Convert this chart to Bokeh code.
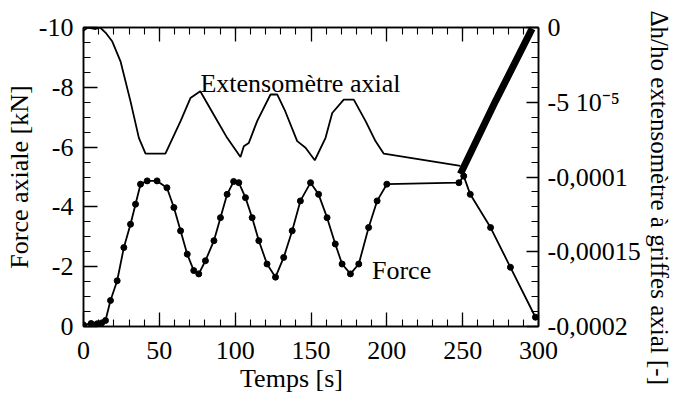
import numpy as np
from bokeh.plotting import figure
from bokeh.models import Range1d, LinearAxis, FixedTicker, SingleIntervalTicker, Label, Title
from bokeh.embed import file_html
from bokeh.resources import INLINE

FONT = "Liberation Serif"

# ---- data ----
# Force axiale [kN] vs temps [s] (left axis, inverted)
time_force = [0, 5, 9, 12, 14.5, 17.8, 22.2, 26.6, 31, 34.3, 37.6, 42, 48.5, 55, 59.6, 64,
              68.4, 72.7, 76, 80.4, 86, 90.3, 94.7, 99, 102.4, 106.8, 111.2, 115.6, 121,
              126.6, 132, 137.6, 143, 149.7, 155, 160.6, 166, 170.5, 176, 181.5, 188,
              193.6, 200, 247.5, 250.7, 255, 268.4, 281.5, 298]
force_kn = [-0.05, -0.1, -0.09, -0.12, -0.2, -0.87, -1.53, -2.64, -3.42, -4.09, -4.76, -4.87,
            -4.87, -4.64, -3.98, -3.2, -2.42, -1.87, -1.76, -2.2, -2.87, -3.64, -4.42, -4.85,
            -4.81, -4.31, -3.64, -2.87, -2.09, -1.65, -2.31, -3.2, -4.2, -4.81, -4.42, -3.64,
            -2.76, -2.09, -1.76, -2.09, -3.31, -4.2, -4.76, -4.81, -5.03, -4.42, -3.31,
            -1.98, -0.31]

# Extensometre axial: dh/ho [-] (right axis)
time_ext = [0, 3, 8, 11, 15, 19, 24.4, 31, 36.5, 40.9, 54, 64, 70.5, 77, 85.7, 94.7, 103.5,
            105.7, 109, 114.5, 123.3, 127.7, 133, 140.9, 146.4, 152.5, 159.6, 164, 171.6,
            178.2, 186, 192.5, 198, 248.5]
ext_strain = [-0.2e-5, 0.0, -0.1e-5, 0.0, -0.4e-5, -0.94e-5, -2.26e-5, -4.94e-5, -7.38e-5,
              -8.44e-5, -8.44e-5, -6.26e-5, -4.72e-5, -4.26e-5, -5.8e-5, -7.38e-5, -8.66e-5,
              -7.94e-5, -7.72e-5, -6.26e-5, -4.48e-5, -4.48e-5, -5.6e-5, -7.6e-5, -8.04e-5,
              -8.88e-5, -7.38e-5, -5.72e-5, -4.82e-5, -4.82e-5, -6.26e-5, -7.6e-5, -8.44e-5,
              -9.26e-5]
# dense return segment (drawn thick)
time_ext_return = [248.5, 271.6, 295.8]
ext_return = [-9.8e-5, -4.94e-5, -0.08e-5]

x_major = 50
left_ticks = [0, -2, -4, -6, -8, -10]
left_tick_labels = ["0", "-2", "-4", "-6", "-8", "-10"]
right_ticks = [0.0, -5e-05, -0.0001, -0.00015, -0.0002]
right_tick_labels = ["0", "-5 10\u207b\u2075", "-0,0001", "-0,00015", "-0,0002"]

NB = "\u00a0"

# ---- figure ----
p = figure(width=680, height=402,
           x_range=Range1d(0, 300), y_range=Range1d(0, -10),
           output_backend="svg", toolbar_location=None,
           min_border_left=83, min_border_right=142, min_border_top=27, min_border_bottom=76)
p.extra_y_ranges = {"ext": Range1d(-0.0002, 0)}
p.grid.visible = False
p.outline_line_color = "black"
p.outline_line_width = 1.5
p.background_fill_color = "white"
p.border_fill_color = "white"

def style_axis(ax, label_size="26px"):
    ax.axis_line_color = "black"
    ax.axis_line_width = 1.5
    ax.major_tick_line_color = "black"
    ax.minor_tick_line_color = "black"
    ax.major_tick_line_width = 1.3
    ax.minor_tick_line_width = 1.1
    ax.major_tick_in = 14
    ax.major_tick_out = 0
    ax.minor_tick_in = 7
    ax.minor_tick_out = 0
    ax.major_label_text_font = FONT
    ax.major_label_text_font_size = label_size
    ax.major_label_text_color = "black"

def style_title(ax, size="26px"):
    ax.axis_label_text_font = FONT
    ax.axis_label_text_font_size = size
    ax.axis_label_text_font_style = "normal"
    ax.axis_label_text_color = "black"

# bottom x axis
xa = p.xaxis[0]
xa.ticker = SingleIntervalTicker(interval=x_major, num_minor_ticks=5)
style_axis(xa)
xa.major_label_standoff = 15
xa.axis_label = "Temps [s]" + NB * 6
style_title(xa)
xa.axis_label_standoff = 2

# left y axis
ya = p.yaxis[0]
ya.ticker = FixedTicker(ticks=left_ticks, minor_ticks=list(np.arange(-20, 1) * 0.5))
ya.major_label_overrides = dict(zip(left_ticks, left_tick_labels))
style_axis(ya)
ya.major_label_standoff = 10
ya.axis_label = "Force axiale [kN]"
style_title(ya)
ya.axis_label_standoff = 2

# top axis (ticks only)
ta = LinearAxis(ticker=SingleIntervalTicker(interval=x_major, num_minor_ticks=5))
style_axis(ta, label_size="1px")
ta.major_label_text_color = None
ta.major_label_standoff = 0
p.add_layout(ta, "above")

# right axis
ra = LinearAxis(y_range_name="ext",
                ticker=FixedTicker(ticks=right_ticks, minor_ticks=list(np.arange(-20, 1) * 1e-5)),
                major_label_overrides=dict(zip(right_ticks, right_tick_labels)))
style_axis(ra)
ra.major_tick_in = 12
ra.major_label_standoff = 9
p.add_layout(ra, "right")

# right-side title (vertical, reads top to bottom)
rt = Title(text="\u0394h/ho extensomètre à griffes axial [-]", align="left", offset=-17,
           text_font=FONT, text_font_size="25px", text_font_style="normal",
           text_color="black", standoff=4)
p.add_layout(rt, "right")

# ---- data ----
p.line(time_ext, ext_strain, y_range_name="ext", line_color="black", line_width=1.8)
p.line(time_ext_return, ext_return, y_range_name="ext", line_color="black", line_width=7)
p.line(time_force, force_kn, line_color="black", line_width=1.8)
p.scatter(time_force, force_kn, size=6, fill_color="black", line_color="black")

# ---- texts ----
p.add_layout(Label(x=77.1, y=-8.13, text="Extensomètre axial", text_font=FONT,
                   text_font_size="26px", text_color="black", text_align="left",
                   text_baseline="alphabetic"))
p.add_layout(Label(x=190.2, y=-1.87, text="Force", text_font=FONT,
                   text_font_size="26px", text_color="black", text_align="left",
                   text_baseline="alphabetic"))

open("out.html", "w").write(file_html(p, INLINE))
